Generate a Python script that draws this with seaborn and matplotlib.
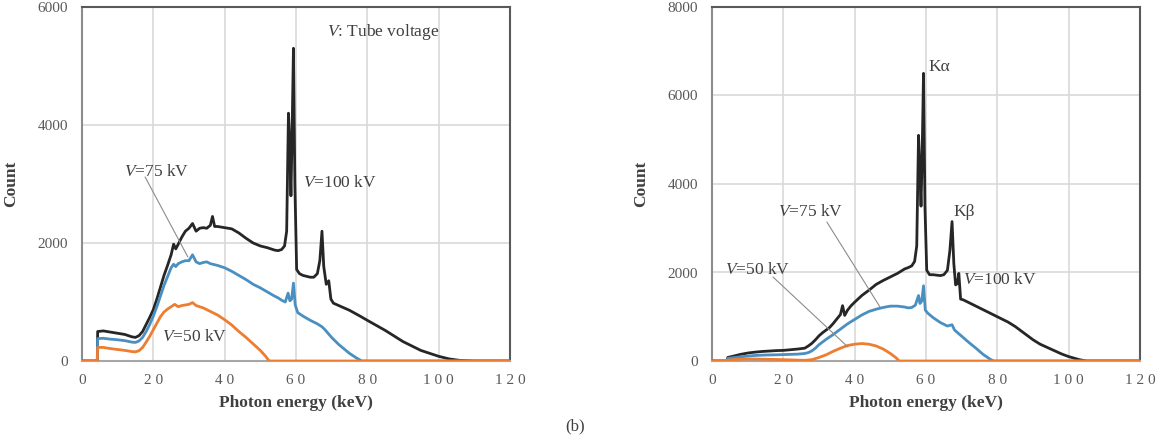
import matplotlib
matplotlib.use('Agg')
import matplotlib.pyplot as plt
import seaborn as sns
import pandas as pd

# Espectros (energia en keV, cuentas)
# (a) izquierda
e_a100 = [0, 4.3, 4.4, 6, 8, 10, 12, 14, 15, 16, 17, 18, 19, 20, 21, 22, 23, 24, 25, 25.7, 26.3,
          27, 28, 29, 30, 31, 32, 33, 34, 35, 36, 36.6, 37.2, 38, 40, 42, 44, 46, 48, 50, 52, 54,
          55, 56, 56.8, 57.4, 57.9, 58.2, 58.6, 58.9, 59.3, 59.7, 60.2, 61, 62, 64, 65, 66, 66.7,
          67.3, 67.8, 68.5, 69.2, 69.8, 70.5, 72, 75, 78, 80, 85, 90, 95, 100, 103, 106, 110, 120]
c_a100 = [0, 0, 500, 510, 490, 470, 450, 410, 400, 430, 500, 620, 740, 870, 1050, 1250, 1450, 1620,
          1800, 1980, 1900, 1980, 2100, 2200, 2250, 2330, 2200, 2250, 2260, 2250, 2300, 2450, 2280,
          2280, 2260, 2240, 2170, 2080, 2000, 1950, 1920, 1880, 1870, 1890, 1950, 2200, 4200, 3800,
          2800, 3800, 5300, 3000, 1550, 1480, 1450, 1420, 1420, 1480, 1700, 2200, 1600, 1300, 1360,
          1050, 980, 940, 860, 760, 690, 520, 330, 180, 80, 35, 10, 0, 0]

e_a75 = [0, 4.3, 4.4, 6, 8, 10, 12, 14, 15, 16, 17, 18, 19, 20, 21, 22, 23, 24, 25, 25.7, 26.3, 27,
         28, 29, 30, 31, 32, 33, 34, 35, 36, 38, 40, 42, 44, 46, 48, 50, 52, 54, 55, 56, 57, 57.8,
         58.3, 58.8, 59.3, 59.8, 60.5, 62, 64, 66, 67.3, 68, 70, 72, 75, 77, 78.5, 120]
c_a75 = [0, 0, 380, 385, 370, 360, 345, 320, 315, 340, 400, 500, 620, 760, 920, 1100, 1280, 1430,
         1580, 1640, 1600, 1650, 1680, 1700, 1700, 1800, 1680, 1650, 1670, 1680, 1650, 1620, 1580,
         1520, 1450, 1380, 1300, 1240, 1170, 1100, 1070, 1030, 1000, 1150, 1020, 1050, 1320, 950,
         820, 760, 690, 630, 580, 540, 400, 280, 130, 50, 0, 0]

e_a50 = [0, 4.3, 4.4, 6, 8, 10, 12, 14, 15, 16, 17, 18, 19, 20, 21, 22, 23, 24, 25, 26, 27, 28, 29,
         30, 31, 32, 34, 36, 38, 40, 42, 44, 46, 48, 50, 51.5, 52.5, 120]
c_a50 = [0, 0, 230, 230, 210, 195, 180, 160, 155, 175, 230, 320, 420, 530, 640, 750, 830, 880, 920,
         960, 920, 940, 950, 960, 990, 940, 900, 840, 780, 700, 610, 500, 400, 290, 180, 80, 0, 0]

# (b) derecha
e_b100 = [0, 4.3, 4.4, 6, 8, 10, 12, 14, 16, 18, 20, 22, 24, 26, 27, 28, 29, 30, 31, 32, 33, 34, 35,
          36, 36.6, 37.2, 38, 39, 40, 42, 44, 46, 48, 50, 52, 54, 55, 56, 56.8, 57.4, 57.9, 58.2,
          58.6, 58.9, 59.3, 59.7, 60.2, 61, 62, 64, 65, 66, 66.7, 67.3, 67.8, 68.3, 68.8, 69.2,
          69.7, 70.5, 72, 75, 78, 80, 83, 85, 88, 90, 92, 95, 98, 100, 103, 105, 120]
c_b100 = [0, 0, 80, 110, 150, 180, 200, 215, 225, 235, 240, 255, 270, 290, 340, 400, 480, 570, 640,
          700, 760, 850, 950, 1050, 1250, 1030, 1150, 1250, 1330, 1480, 1600, 1730, 1820, 1900, 1980,
          2080, 2110, 2150, 2250, 2600, 5100, 4500, 3500, 4600, 6500, 3500, 2050, 1950, 1950, 1930,
          1950, 2050, 2500, 3150, 2200, 1720, 1750, 1980, 1400, 1380, 1320, 1200, 1080, 1000, 880,
          780, 600, 480, 380, 270, 160, 100, 30, 0, 0]

e_b75 = [0, 4.3, 4.4, 6, 8, 10, 12, 15, 18, 20, 22, 24, 26, 27, 28, 29, 30, 32, 34, 35, 36, 38, 40,
         42, 44, 46, 48, 50, 52, 54, 55, 56, 57, 57.9, 58.3, 58.8, 59.3, 59.8, 60.5, 62, 64, 66,
         67.3, 68, 70, 72, 74, 76, 78, 79, 120]
c_b75 = [0, 0, 60, 75, 95, 110, 125, 135, 140, 145, 150, 155, 170, 190, 230, 290, 370, 490, 600, 660,
         720, 840, 940, 1040, 1120, 1170, 1210, 1240, 1240, 1220, 1200, 1210, 1260, 1480, 1300, 1350,
         1700, 1150, 1080, 980, 870, 790, 820, 700, 560, 420, 290, 150, 40, 0, 0]

e_b50 = [0, 4.3, 4.4, 6, 8, 10, 12, 15, 18, 20, 22, 24, 26, 28, 30, 32, 34, 36, 38, 40, 42, 44, 46,
         48, 50, 51.5, 52.5, 120]
c_b50 = [0, 0, 20, 30, 40, 45, 45, 40, 35, 30, 25, 20, 15, 30, 80, 140, 220, 290, 350, 380, 395, 380,
         340, 270, 170, 80, 0, 0]

colores = {'100': '#262626', '75': '#4a8fc1', '50': '#ed7d31'}

sns.set_style('white')
plt.rcParams['font.family'] = ['Liberation Serif', 'DejaVu Serif']
plt.rcParams['mathtext.fontset'] = 'custom'
plt.rcParams['mathtext.it'] = 'Liberation Serif:italic'
plt.rcParams['mathtext.rm'] = 'Liberation Serif'

fig = plt.figure(figsize=(11.61, 4.36), dpi=100)
ax_a = fig.add_axes([0.0706, 0.172, 0.3686, 0.812])
ax_b = fig.add_axes([0.6133, 0.172, 0.3686, 0.812])

series = {
    ax_a: [(e_a100, c_a100, '100'), (e_a75, c_a75, '75'), (e_a50, c_a50, '50')],
    ax_b: [(e_b100, c_b100, '100'), (e_b75, c_b75, '75'), (e_b50, c_b50, '50')],
}

gris_txt = '#404040'
for ax, lista in series.items():
    for e, c, v in lista:
        df = pd.DataFrame({'E': e, 'C': c})
        sns.lineplot(data=df, x='E', y='C', ax=ax, color=colores[v], lw=2.0,
                     estimator=None, sort=False, zorder=3)
    ax.set_xlim(0, 120)
    ax.set_xticks(range(0, 121, 20))
    ax.set_xticklabels([' '.join(str(t)) for t in range(0, 121, 20)])
    ax.grid(True, color='#d9d9d9', lw=1.2)
    ax.tick_params(length=0, labelsize=11, labelcolor='#595959')
    ax.tick_params(axis='y', pad=10)
    ax.tick_params(axis='x', pad=9)
    ax.set_xlabel('Photon energy (keV)', fontsize=12.5, fontweight='bold', color='#404040', labelpad=6)
    ax.set_ylabel('Count', fontsize=12.5, fontweight='bold', color='#404040', labelpad=13)
    ax.spines['top'].set_color('#595959')
    ax.spines['right'].set_color('#595959')
    ax.spines['left'].set_color('#8c8c8c')
    ax.spines['bottom'].set_color('#a6a6a6')
    for s in ax.spines.values():
        s.set_linewidth(1.5)
        s.set_visible(True)

ax_a.set_ylim(0, 6000)
ax_a.set_yticks(range(0, 6001, 2000))
ax_b.set_ylim(0, 8000)
ax_b.set_yticks(range(0, 8001, 2000))

fs = 12.5
# anotaciones (a)
ax_a.text(68.7, 5577, '$V$: Tube voltage', fontsize=fs, color=gris_txt, va='center')
ax_a.text(11.8, 3204, '$V$=75 kV', fontsize=fs, color=gris_txt, va='center')
ax_a.plot([17.7, 29.7], [3119, 1763], color='#8c8c8c', lw=0.8, zorder=4)
ax_a.text(62.0, 3017, '$V$=100 kV', fontsize=fs, color=gris_txt, va='center')
ax_a.text(22.4, 407, '$V$=50 kV', fontsize=fs, color=gris_txt, va='center', zorder=5)

# anotaciones (b)
ax_b.text(60.6, 6644, 'Kα', fontsize=fs, color=gris_txt, va='center')
ax_b.text(67.6, 3367, 'Kβ', fontsize=fs, color=gris_txt, va='center')
ax_b.text(18.5, 3367, '$V$=75 kV', fontsize=fs, color=gris_txt, va='center')
ax_b.plot([32.2, 47.1], [3141, 1220], color='#8c8c8c', lw=0.8, zorder=4)
ax_b.text(3.6, 2057, '$V$=50 kV', fontsize=fs, color=gris_txt, va='center')
ax_b.plot([17.1, 38.1], [1898, 316], color='#8c8c8c', lw=0.8, zorder=4)
ax_b.text(70.4, 1831, '$V$=100 kV', fontsize=fs, color=gris_txt, va='center')

fig.text(575 / 1161, 0.004, '(b)', fontsize=12, color=gris_txt, ha='center', va='bottom')

fig.savefig('out.png', dpi=100)
